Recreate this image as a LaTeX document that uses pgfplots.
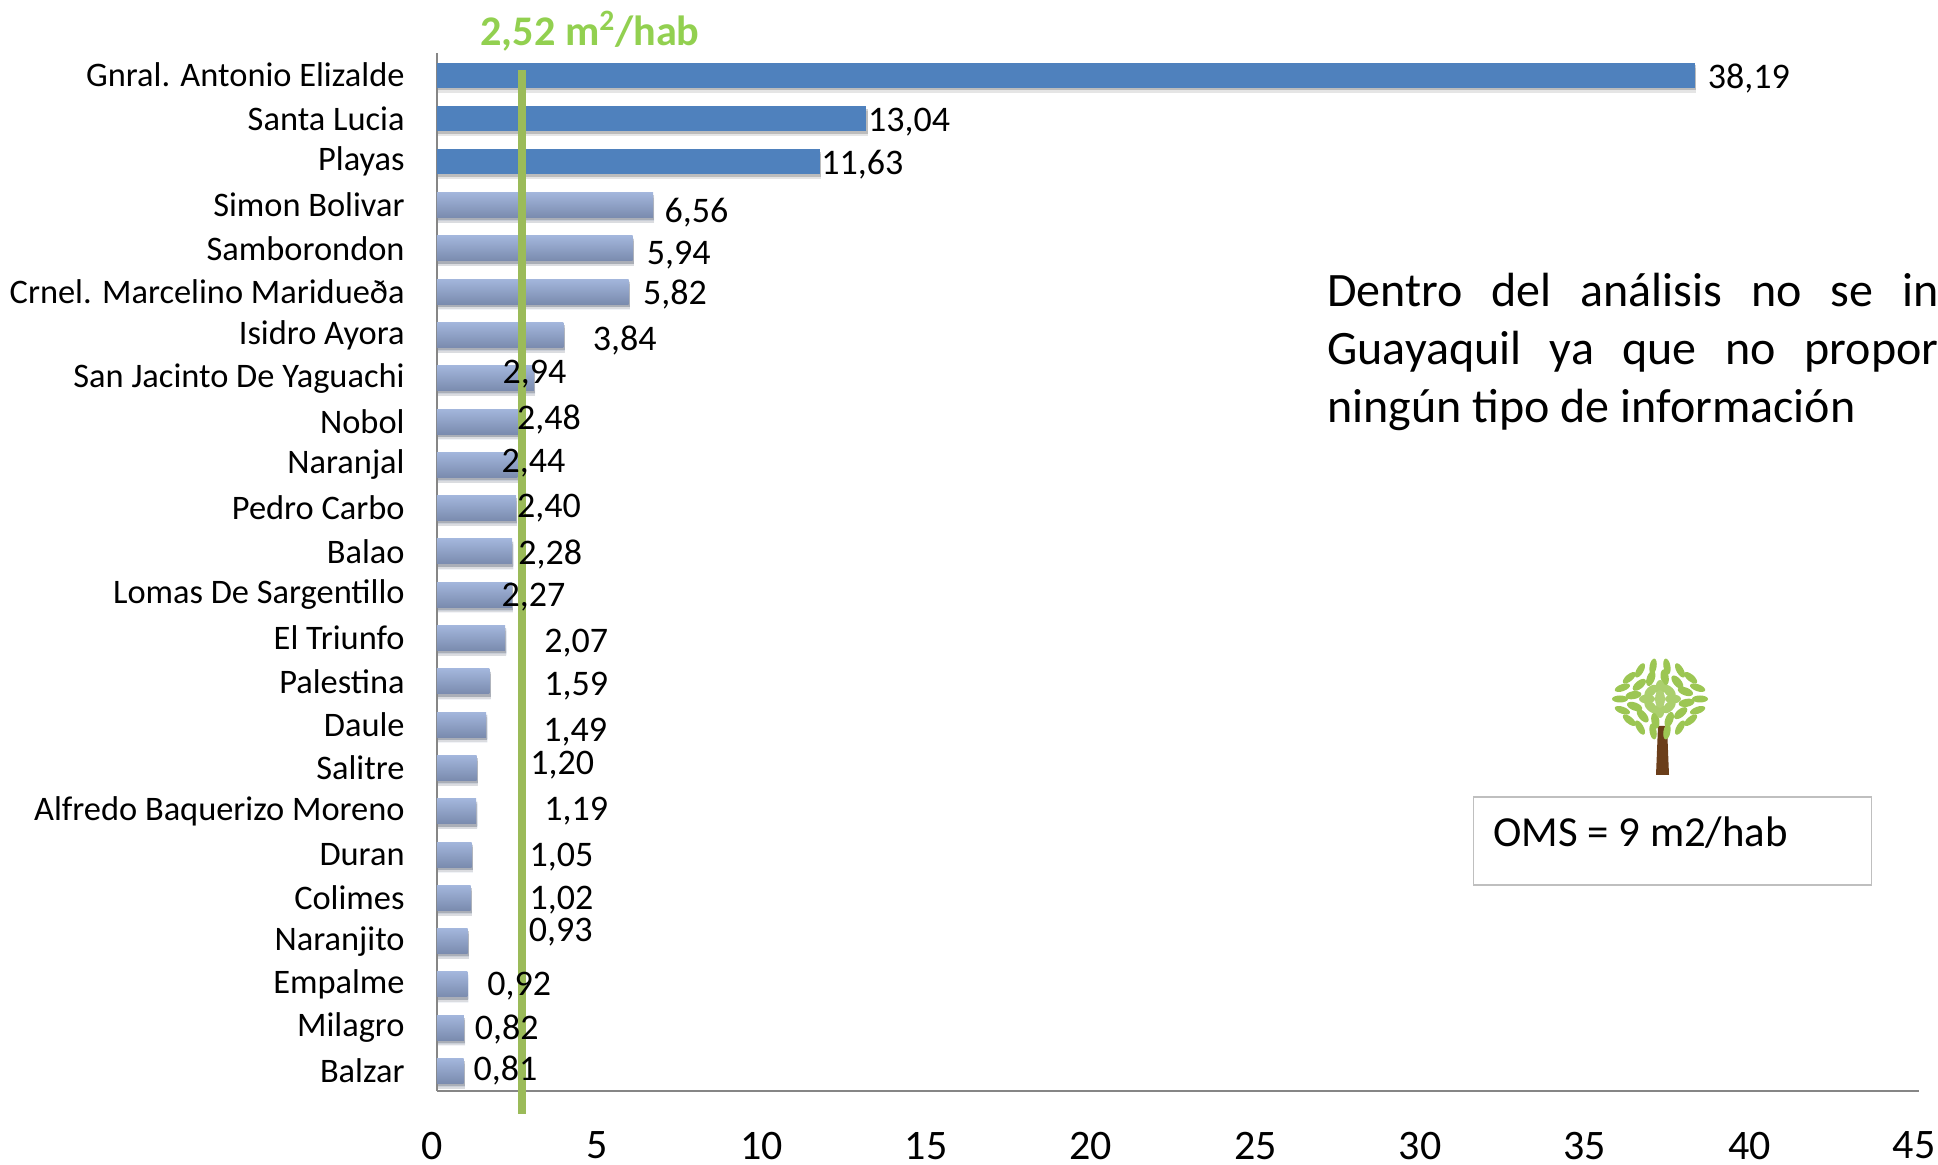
\documentclass[border=0pt]{standalone}
\usepackage{fontspec}
\setmainfont{Carlito}
\usepackage{pgfplots}
\pgfplotsset{compat=1.18}
\usetikzlibrary{shadows}

\definecolor{barsolid}{HTML}{4F81BD}
\definecolor{bartop}{HTML}{A3B6DC}
\definecolor{barbot}{HTML}{7A8BAE}
\definecolor{meanline}{HTML}{9BBB59}
\definecolor{meantext}{HTML}{92D050}
\definecolor{axisgray}{HTML}{868686}
\definecolor{leaf}{HTML}{9CC653}
\definecolor{trunk}{HTML}{6B3E1A}

\tikzset{softshadow/.style={
    drop shadow={shadow xshift=0.6pt, shadow yshift=-2.6pt, fill=black, opacity=0.10},
    drop shadow={shadow xshift=0.6pt, shadow yshift=-1.4pt, fill=black, opacity=0.18}}}

\pgfplotsset{
  solidbar/.style={xbar, bar shift=0pt, bar width=12.5pt, draw=none, fill=barsolid, softshadow},
  % one \addplot per bar, so that each bar gets its own gradient
  lightbar/.style={xbar, bar shift=0pt, bar width=12.5pt, draw=none,
    top color=bartop, bottom color=barbot, softshadow},
}

\begin{document}
\begin{tikzpicture}
% page = 1938x1165 px at 0.5pt per px, axis corner at px (437,1091)
\useasboundingbox (-218.5pt,-37pt) rectangle (750.5pt,545.5pt);

\begin{axis}[
    at={(0pt,0pt)}, anchor=south west,
    scale only axis, width=741pt, height=519pt,
    xmin=0, xmax=45, ymin=-0.46, ymax=23.51,
    axis x line=bottom, axis y line=left,
    axis line style={-, draw=axisgray, line width=0.75pt},
    clip=false,
    xtick={0,5,...,45},
    major tick length=0pt,
    ytick={0,...,23},
    yticklabels={Balzar, Milagro, Empalme, Naranjito, Colimes, Duran,
      Alfredo Baquerizo Moreno, Salitre, Daule, Palestina, El Triunfo,
      Lomas De Sargentillo, Balao, Pedro Carbo, Naranjal, Nobol,
      San Jacinto De Yaguachi, Isidro Ayora, Crnel. Marcelino Maridueða,
      Samborondon, Simon Bolivar, Playas, Santa Lucia, Gnral. Antonio Elizalde},
    y tick label style={font=\fontsize{17.2}{19}\selectfont, inner sep=0pt, xshift=-16pt},
    x tick label style={font=\fontsize{21}{24}\selectfont, inner sep=0pt, xshift=-2.5pt, yshift=-20.3pt},
    /pgf/number format/assume math mode=true,
    every node near coord/.append style={anchor=west, inner sep=0pt, yshift=-1pt,
      font=\fontsize{18}{20}\selectfont, black},
]

% top three bars
\addplot[solidbar] coordinates {(38.19,23)};
\addplot[solidbar] coordinates {(13.04,22)};
\addplot[solidbar] coordinates {(11.63,21)};

% the others
\addplot[lightbar] coordinates {(6.56,20)};
\addplot[lightbar] coordinates {(5.94,19)};
\addplot[lightbar] coordinates {(5.82,18)};
\addplot[lightbar] coordinates {(3.84,17)};
\addplot[lightbar] coordinates {(2.94,16)};
\addplot[lightbar] coordinates {(2.48,15)};
\addplot[lightbar] coordinates {(2.44,14)};
\addplot[lightbar] coordinates {(2.40,13)};
\addplot[lightbar] coordinates {(2.28,12)};
\addplot[lightbar] coordinates {(2.27,11)};
\addplot[lightbar] coordinates {(2.07,10)};
\addplot[lightbar] coordinates {(1.59,9)};
\addplot[lightbar] coordinates {(1.49,8)};
\addplot[lightbar] coordinates {(1.20,7)};
\addplot[lightbar] coordinates {(1.19,6)};
\addplot[lightbar] coordinates {(1.05,5)};
\addplot[lightbar] coordinates {(1.02,4)};
\addplot[lightbar] coordinates {(0.93,3)};
\addplot[lightbar] coordinates {(0.92,2)};
\addplot[lightbar] coordinates {(0.82,1)};
\addplot[lightbar] coordinates {(0.81,0)};

% value labels sit where they were put by hand in the original
\addplot[draw=none, mark=none, nodes near coords, point meta=explicit symbolic]
  table[x=x, y=y, meta=lab] {
x     y     lab
38.58 22.97 38,19
13.08 21.97 13,04
11.66 20.97 11,63
6.90  19.88 6,56
6.36  18.88 5,94
6.25  17.97 5,82
4.72  16.92 3,84
1.98  16.15 2,94
2.42  15.09 2,48
1.95  14.09 2,44
2.42  13.04 2,40
2.46  11.98 2,28
1.95  10.98 2,27
3.25  9.93  2,07
3.25  8.93  1,59
3.22  7.87  1,49
2.82  7.10  1,20
3.25  6.05  1,19
2.80  4.99  1,05
2.80  3.99  1,02
2.78  3.25  0,93
1.52  2.00  0,92
1.14  1.00  0,82
1.10  0.06  0,81
};

% average line, drawn over the labels
\addplot[meanline, line width=4pt] coordinates {(2.58,-0.98) (2.58,23.11)};
\end{axis}

% everything below in reference pixels
\begin{scope}[x=0.5pt, y=-0.5pt, shift={(-218.5pt,545.5pt)}]
  \node[anchor=center, inner sep=0pt, text=meantext, font=\fontsize{21.1}{24}\selectfont\bfseries]
    at (590,31) {2,52 m\textsuperscript{2}/hab};

  \node[anchor=base west, inner sep=0pt, font=\fontsize{24}{28}\selectfont] at (1327,306.5)
    {\hbox to 305.5pt{Dentro\hfill del\hfill análisis\hfill no\hfill se\hfill in}};
  \node[anchor=base west, inner sep=0pt, font=\fontsize{24}{28}\selectfont] at (1327,364.5)
    {\hbox to 305.5pt{Guayaquil\hfill ya\hfill que\hfill no\hfill propor}};
  \node[anchor=base west, inner sep=0pt, font=\fontsize{24}{28}\selectfont] at (1327,422.5)
    {ningún tipo de información};

  % note box
  \draw[draw=black!25, line width=0.7pt] (1473.5,797) rectangle (1871.5,885);
  \node[anchor=base west, inner sep=0pt, font=\fontsize{21.4}{24}\selectfont] at (1493,847)
    {OMS = 9 m2/hab};

  % small tree
  \fill[trunk] (1656,775) -- (1658,726) -- (1667,726) -- (1669,775) -- cycle;
  \foreach \a in {0,20,...,340}
    \fill[leaf, shift={({1660+40*cos(\a)},{699+33*sin(\a)})}, rotate=\a] (0,0) ellipse (8 and 3.5);
  \foreach \a in {10,40,...,340}
    \fill[leaf, shift={({1660+27*cos(\a)},{699+22*sin(\a)})}, rotate=\a] (0,0) ellipse (8 and 4);
  \foreach \a in {0,45,...,315}
    \fill[leaf!85!white, shift={({1660+13*cos(\a)},{699+11*sin(\a)})}, rotate=\a] (0,0) ellipse (8 and 4.5);
  \fill[leaf!80!white] (1660,699) ellipse (5 and 9);
\end{scope}
\end{tikzpicture}
\end{document}
